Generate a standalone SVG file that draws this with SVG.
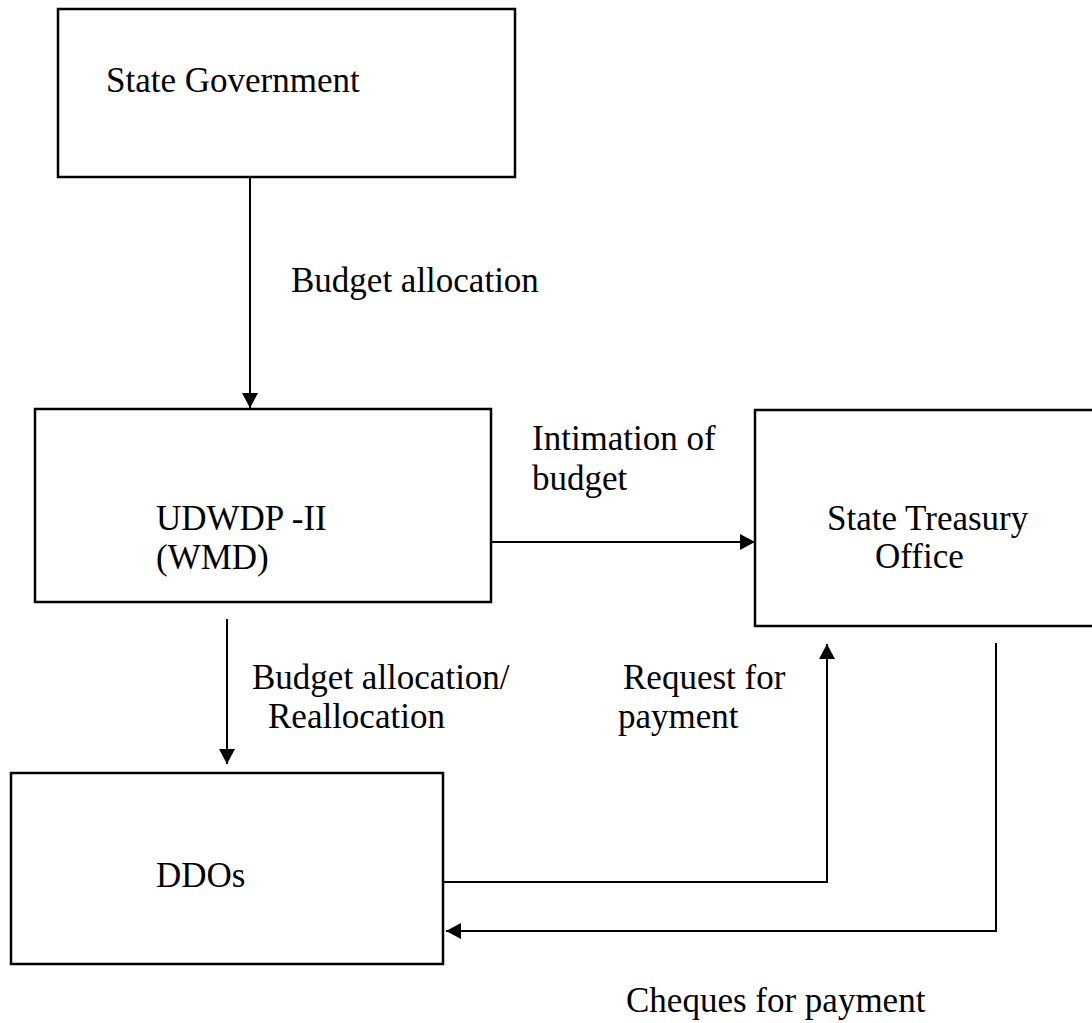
<svg xmlns="http://www.w3.org/2000/svg" width="1092" height="1023" viewBox="0 0 1092 1023">
<defs>
<style>
.box{fill:#fff;stroke:#000;stroke-width:2.5}
.lbl{font-family:"Liberation Serif","Times New Roman",serif;font-size:35px;fill:#000}
.con{fill:none;stroke:#000;stroke-width:2}
</style>
<marker id="ah" markerUnits="userSpaceOnUse" markerWidth="15" markerHeight="16" refX="15" refY="8" orient="auto" viewBox="0 0 15 16">
<path d="M0,0 L15,8 L0,16 z" fill="#000"/>
</marker>
</defs>
<rect width="1092" height="1023" fill="#fff"/>
<g id="connectors">
<line class="con" x1="250" y1="177" x2="250" y2="408" marker-end="url(#ah)"/>
<line class="con" x1="491" y1="542" x2="755" y2="542" marker-end="url(#ah)"/>
<line class="con" x1="227" y1="619" x2="227" y2="764" marker-end="url(#ah)"/>
<polyline class="con" points="444,882 827,882 827,644" marker-end="url(#ah)"/>
<polyline class="con" points="996,643 996,931 446,931" marker-end="url(#ah)"/>
<text class="lbl" x="291" y="292">Budget allocation</text>
<text class="lbl" x="532" y="450">Intimation of</text>
<text class="lbl" x="532" y="490">budget</text>
<text class="lbl" x="252" y="689">Budget allocation/</text>
<text class="lbl" x="268" y="728">Reallocation</text>
<text class="lbl" x="623" y="689">Request for</text>
<text class="lbl" x="618" y="728">payment</text>
<text class="lbl" x="626" y="1012">Cheques for payment</text>
</g>
<g id="state-government">
<rect class="box" x="58" y="9" width="457" height="168"/>
<text class="lbl" x="106" y="92">State Government</text>
</g>
<g id="udwdp">
<rect class="box" x="35" y="409" width="456" height="193"/>
<text class="lbl" x="156" y="530">UDWDP -II</text>
<text class="lbl" x="156" y="569">(WMD)</text>
</g>
<g id="state-treasury">
<rect class="box" x="755" y="410" width="345" height="216"/>
<text class="lbl" x="827" y="530">State Treasury</text>
<text class="lbl" x="875" y="568">Office</text>
</g>
<g id="ddos">
<rect class="box" x="11" y="773" width="432" height="191"/>
<text class="lbl" x="156" y="887">DDOs</text>
</g>
</svg>
